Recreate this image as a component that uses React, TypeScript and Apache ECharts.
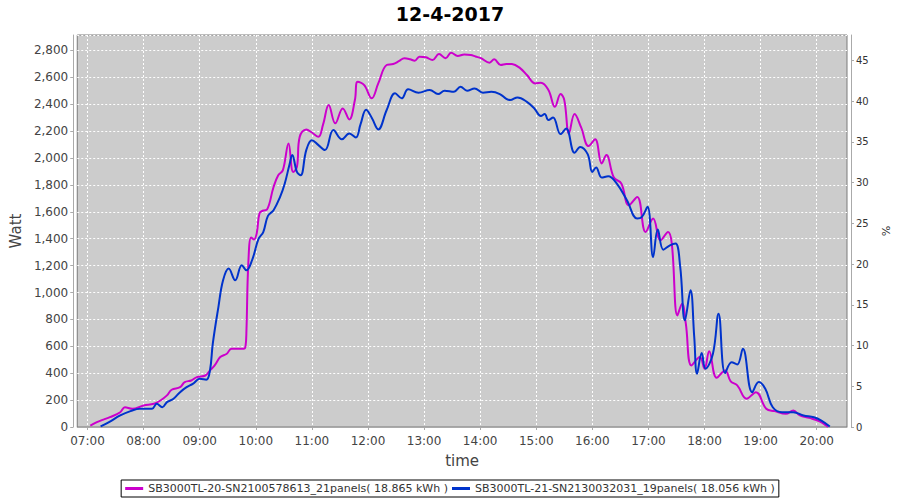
import React, { useEffect, useRef } from "react";
import * as echarts from "echarts";

const titleText = "12-4-2017";
const seriesNames = [
  "SB3000TL-20-SN2100578613_21panels( 18.865 kWh )",
  "SB3000TL-21-SN2130032031_19panels( 18.056 kWh )",
];
const hourTicks = [7, 8, 9, 10, 11, 12, 13, 14, 15, 16, 17, 18, 19, 20];

const magentaTimes = [
  "07:03", "07:10", "07:17", "07:24", "07:35", "07:40", "07:48", "08:00", "08:11", "08:18",
  "08:25", "08:30", "08:39", "08:44", "08:51", "08:57", "09:06", "09:11", "09:16", "09:22",
  "09:29", "09:34", "09:47", "09:49", "09:50", "09:52", "09:55", "09:58", "10:01", "10:04",
  "10:08", "10:12", "10:19", "10:24", "10:29", "10:35", "10:40", "10:44", "10:47", "10:54",
  "11:00", "11:07", "11:12", "11:18", "11:25", "11:33", "11:40", "11:46", "11:49", "11:56",
  "12:04", "12:11", "12:20", "12:27", "12:33", "12:39", "12:45", "12:50", "12:55", "13:02",
  "13:09", "13:16", "13:23", "13:29", "13:36", "13:43", "13:50", "13:55", "14:01", "14:10",
  "14:15", "14:22", "14:28", "14:34", "14:43", "14:50", "14:59", "15:05", "15:13", "15:20",
  "15:26", "15:30", "15:35", "15:41", "15:48", "15:56", "16:03", "16:10", "16:15", "16:23",
  "16:31", "16:39", "16:48", "16:57", "17:05", "17:13", "17:21", "17:25", "17:31", "17:36",
  "17:40", "17:46", "17:55", "18:00", "18:05", "18:13", "18:22", "18:28", "18:35", "18:45",
  "18:55", "19:06", "19:15", "19:27", "19:35", "19:42", "19:52", "20:03", "20:10", "20:12",
];
const magentaValues = [
  10, 36, 55, 73, 110, 147, 135, 160, 173, 197,
  235, 277, 296, 334, 346, 371, 383, 421, 458, 520,
  545, 582, 582, 600, 718, 1215, 1410, 1395, 1440, 1590,
  1610, 1617, 1785, 1872, 1910, 2109, 1897, 1934, 2158, 2213,
  2190, 2158, 2250, 2394, 2258, 2369, 2287, 2431, 2567, 2543,
  2444, 2555, 2692, 2699, 2720, 2742, 2735, 2724, 2754, 2749,
  2729, 2774, 2742, 2783, 2759, 2770, 2766, 2755, 2742, 2709,
  2734, 2692, 2700, 2699, 2667, 2617, 2555, 2560, 2506, 2381,
  2476, 2431, 2183, 2327, 2228, 2089, 2139, 1960, 2022, 1855,
  1811, 1649, 1711, 1450, 1550, 1389, 1450, 1364, 830, 917,
  768, 458, 520, 433, 564, 366, 421, 340, 309, 210,
  259, 136, 118, 98, 123, 86, 68, 43, 11, 0,
];

const blueTimes = [
  "07:14", "07:23", "07:35", "07:46", "07:56", "08:09", "08:14", "08:20", "08:25", "08:32",
  "08:39", "08:46", "08:53", "09:00", "09:07", "09:11", "09:14", "09:20", "09:25", "09:31",
  "09:38", "09:45", "09:50", "09:56", "10:03", "10:08", "10:13", "10:19", "10:26", "10:31",
  "10:36", "10:39", "10:44", "10:48", "10:54", "11:00", "11:07", "11:14", "11:23", "11:32",
  "11:40", "11:47", "11:52", "11:58", "12:04", "12:11", "12:20", "12:29", "12:36", "12:43",
  "12:54", "13:06", "13:15", "13:22", "13:32", "13:39", "13:46", "13:54", "14:03", "14:12",
  "14:21", "14:28", "14:32", "14:40", "14:50", "14:58", "15:05", "15:09", "15:13", "15:18",
  "15:26", "15:32", "15:41", "15:47", "15:55", "16:00", "16:04", "16:10", "16:17", "16:26",
  "16:37", "16:48", "16:53", "16:59", "17:05", "17:10", "17:16", "17:23", "17:29", "17:34",
  "17:39", "17:45", "17:49", "17:52", "17:57", "18:01", "18:09", "18:15", "18:22", "18:29",
  "18:35", "18:41", "18:51", "18:58", "19:05", "19:13", "19:23", "19:35", "19:46", "19:57",
  "20:05", "20:14",
];
const blueValues = [
  4, 36, 86, 118, 136, 136, 173, 147, 185, 210,
  259, 296, 322, 359, 351, 421, 620, 892, 1091, 1178,
  1091, 1203, 1165, 1240, 1400, 1450, 1570, 1612, 1711, 1811,
  1950, 2022, 1897, 1872, 2059, 2133, 2096, 2059, 2208, 2139,
  2183, 2153, 2250, 2360, 2300, 2213, 2357, 2481, 2444, 2511,
  2486, 2506, 2476, 2501, 2493, 2530, 2501, 2518, 2486, 2493,
  2476, 2440, 2431, 2451, 2418, 2369, 2312, 2327, 2282, 2302,
  2178, 2220, 2039, 2083, 2029, 1897, 1930, 1855, 1865, 1811,
  1686, 1550, 1562, 1637, 1264, 1468, 1319, 1351, 1364, 1190,
  793, 1016, 669, 396, 550, 433, 545, 843, 401, 482,
  465, 582, 259, 334, 284, 147, 110, 110, 86, 73,
  48, 4,
];

const toHours = (t: string) => {
  const [h, m] = t.split(":").map(Number);
  return h + m / 60;
};
const pairs = (times: string[], vals: number[]) => times.map((t, i) => [toHours(t), vals[i]]);

const FONT = "DejaVu Sans";

export default function App() {
  const ref = useRef<HTMLDivElement>(null);
  useEffect(() => {
    if (!ref.current) return;
    const chart = echarts.init(ref.current, null, { renderer: "svg" });
    chart.setOption({
      animation: false,
      backgroundColor: "#ffffff",
      textStyle: { fontFamily: FONT },
      title: {
        text: titleText,
        left: "center",
        top: -1,
        textStyle: { fontFamily: FONT, fontSize: 19, fontWeight: "bold", color: "#000" },
      },
      grid: {
        left: 75,
        right: 53,
        top: 35,
        bottom: 73,
        show: true,
        backgroundColor: "#CCCCCC",
        borderColor: "#7a7a7a",
        borderWidth: 1,
      },
      legend: {
        bottom: 3,
        left: "center",
        borderColor: "#000",
        borderWidth: 1,
        borderRadius: 0,
        padding: [3, 4, 3, 4],
        itemGap: 4,
        itemWidth: 18,
        itemHeight: 3,
        icon: "rect",
        textStyle: { fontFamily: FONT, fontSize: 11, color: "#333" },
        data: seriesNames,
      },
      xAxis: {
        type: "value",
        min: 6.817,
        max: 20.54,
        offset: 3,
        name: "time",
        nameLocation: "middle",
        nameGap: 23,
        nameTextStyle: { fontFamily: FONT, fontSize: 15, color: "#444" },
        axisLine: { show: true, lineStyle: { color: "#aaaaaa" } },
        axisTick: { show: true, customValues: hourTicks, length: 3, lineStyle: { color: "#aaaaaa" } },
        axisLabel: {
          customValues: hourTicks,
          fontFamily: FONT,
          fontSize: 12,
          color: "#444",
          margin: 5,
          formatter: (v: number) => String(Math.round(v)).padStart(2, "0") + ":00",
        },
        splitLine: { show: true, lineStyle: { color: "#ffffff", type: [2, 2], width: 1 } },
      },
      yAxis: [
        {
          type: "value",
          min: 0,
          max: 2915,
          interval: 200,
          offset: 4,
          name: "Watt",
          nameLocation: "middle",
          nameGap: 40,
          nameTextStyle: { fontFamily: FONT, fontSize: 15, color: "#444" },
          axisLine: { show: true, lineStyle: { color: "#aaaaaa" } },
          axisTick: { show: true, length: 3, lineStyle: { color: "#aaaaaa" } },
          axisLabel: {
            fontFamily: FONT,
            fontSize: 12,
            color: "#444",
            margin: 5,
            showMaxLabel: false,
            formatter: (v: number) => v.toLocaleString("en-US"),
          },
          splitLine: { show: true, lineStyle: { color: "#ffffff", type: [2, 2], width: 1 } },
        },
        {
          type: "value",
          min: 0,
          max: 48.1,
          interval: 5,
          offset: 4,
          position: "right",
          name: "%",
          nameLocation: "middle",
          nameGap: 16,
          nameRotate: -90,
          nameTextStyle: { fontFamily: FONT, fontSize: 11, color: "#333" },
          axisLine: { show: true, lineStyle: { color: "#aaaaaa" } },
          axisTick: { show: true, length: 3, lineStyle: { color: "#aaaaaa" } },
          axisLabel: { fontFamily: FONT, fontSize: 10, color: "#333", margin: 5, showMaxLabel: false },
          splitLine: { show: false },
        },
      ],
      series: [
        {
          name: seriesNames[0],
          type: "line",
          data: pairs(magentaTimes, magentaValues),
          smooth: 0.4,
          showSymbol: false,
          color: "#CC00CC",
          lineStyle: { width: 2, color: "#CC00CC" },
        },
        {
          name: seriesNames[1],
          type: "line",
          data: pairs(blueTimes, blueValues),
          smooth: 0.4,
          showSymbol: false,
          color: "#0033CC",
          lineStyle: { width: 2, color: "#0033CC" },
        },
      ],
    });
    return () => chart.dispose();
  }, []);
  return (
    <div
      ref={ref}
      style={{ position: "fixed", left: 0, top: 0, width: 900, height: 500 }}
    />
  );
}
